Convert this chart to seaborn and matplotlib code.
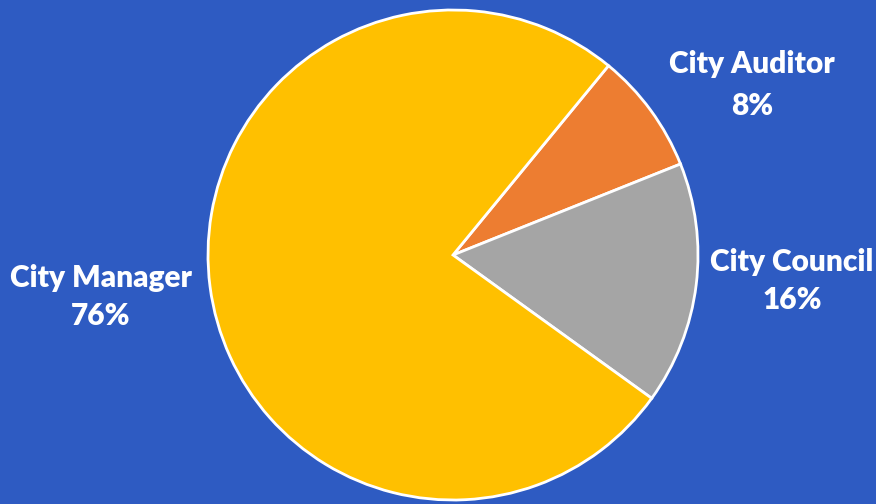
import matplotlib
matplotlib.use("Agg")
import matplotlib.pyplot as plt
import seaborn as sns

categories = ["City Auditor", "City Council", "City Manager"]
shares = [8, 16, 76]
pct_labels = ["8%", "16%", "76%"]

sns.set_theme(style="white")
plt.rcParams['font.family'] = ['Lato', 'DejaVu Sans']
colors = sns.color_palette(["#ED7D31", "#A5A5A5", "#FFC000"])
bg = "#2E5BC2"

fig = plt.figure(figsize=(8.76, 5.04), dpi=100)
fig.patch.set_facecolor(bg)
ax = fig.add_axes([0, 0, 1, 1])
ax.set_facecolor(bg)

cx, cy, r = 453, 504 - 255, 245
ax.pie(shares, colors=colors, startangle=50.6, counterclock=False,
       center=(cx, cy), radius=r,
       wedgeprops=dict(edgecolor="white", linewidth=2))
ax.set_xlim(0, 876)
ax.set_ylim(0, 504)
ax.set_aspect("equal")
ax.axis("off")

label_pos = {"City Auditor": (752, 64, 106),
             "City Council": (792, 262, 300),
             "City Manager": (101, 278, 316)}
for cat, pct in zip(categories, pct_labels):
    x, y1, y2 = label_pos[cat]
    ax.text(x, 504 - y1, cat, ha="center", va="center", color="white",
            fontsize=21.5, fontweight="heavy")
    ax.text(x, 504 - y2, pct, ha="center", va="center", color="white",
            fontsize=21.5, fontweight="heavy")

fig.savefig("out.png", dpi=100, facecolor=bg)
